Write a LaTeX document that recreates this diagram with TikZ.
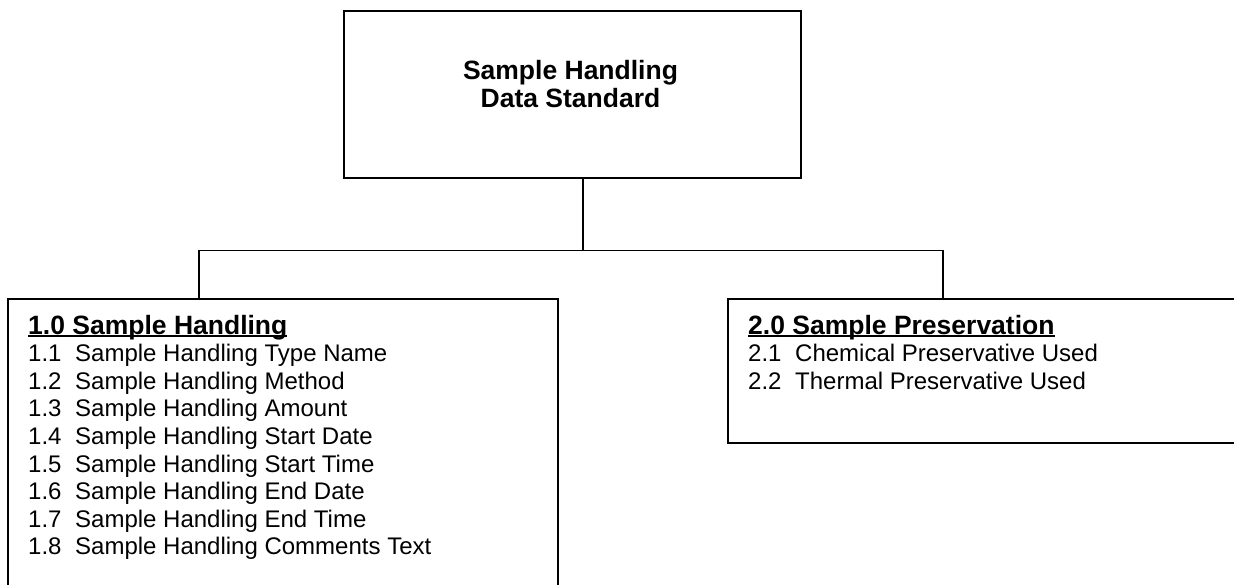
\documentclass[tikz,border=0pt]{standalone}
\usepackage{fontspec}
\setmainfont{Liberation Sans}
\newcommand\ulbox[1]{\setbox0\hbox{#1}\rlap{\rule[-3.4pt]{\wd0}{2pt}}\box0}
\begin{document}
\begin{tikzpicture}[x=1pt,y=-1pt,
  box/.style={draw=black,line width=1.8pt,rectangle,inner sep=0pt,anchor=north west},
  conn/.style={draw=black,line width=1.8pt},
  titletext/.style={anchor=base,inner sep=0pt,font=\fontsize{26.5}{30}\selectfont\bfseries},
  headtext/.style={anchor=base west,inner sep=0pt,font=\fontsize{26.5}{30}\selectfont\bfseries},
  itemtext/.style={anchor=base west,inner sep=0pt,font=\fontsize{24}{28}\selectfont}]
\clip (0,0) rectangle (1234,584);
\fill[white] (0,0) rectangle (1234,584);
\node[box,minimum width=457pt,minimum height=167pt] (top) at (343,10) {};
\node[titletext] (t1) at (570.5,79) {Sample Handling};
\node[titletext] (t2) at (570.5,107) {Data Standard};
\node[box,minimum width=550pt,minimum height=320pt] (left) at (7,298) {};
\node[box,minimum width=530pt,minimum height=144pt] (right) at (727,298) {};
\coordinate (j) at (583,250.5);
\coordinate (cl) at (199,250.5);
\coordinate (cr) at (943,250.5);
\draw[conn] (top.south -| j) -- (j);
\draw[conn] (left.north -| cl) -- (cl) -- (cr) -- (right.north -| cr);
\node[headtext] (lh) at (28,334) {\ulbox{1.0 Sample Handling}};
\foreach \n/\t [count=\i] in {1.1/Sample Handling Type Name,1.2/Sample Handling Method,1.3/Sample Handling Amount,1.4/Sample Handling Start Date,1.5/Sample Handling Start Time,1.6/Sample Handling End Date,1.7/Sample Handling End Time,1.8/Sample Handling Comments Text}
  \node[itemtext] (l\i) at (28,{334+27.6*\i}) {\makebox[47pt][l]{\n}\t};
\node[headtext] (rh) at (748,334) {\ulbox{2.0 Sample Preservation}};
\node[itemtext] (r1) at (748,361.6) {\makebox[47pt][l]{2.1}Chemical Preservative Used};
\node[itemtext] (r2) at (748,389.2) {\makebox[47pt][l]{2.2}Thermal Preservative Used};
\end{tikzpicture}
\end{document}
